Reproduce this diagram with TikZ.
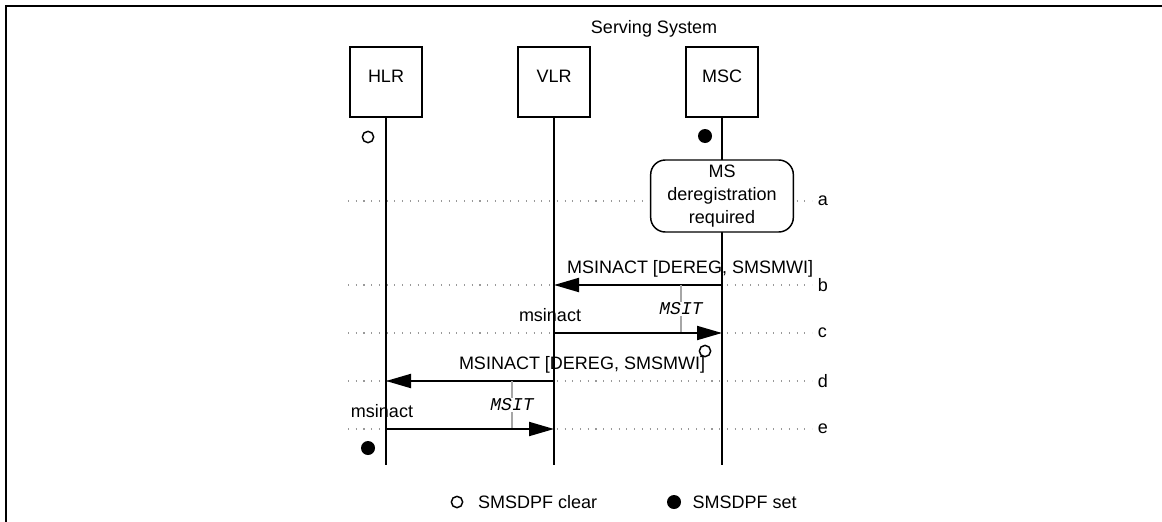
\documentclass[tikz,border=0pt]{standalone}
\usepackage{fontspec}
\setmainfont{Liberation Sans}
\newfontfamily\msitfont{Liberation Mono}
\usetikzlibrary{arrows.meta, positioning}

\begin{document}
\begin{tikzpicture}[
  x=0.75pt, y=-0.75pt,
  font=\fontsize{13.5}{17}\selectfont,
  entity/.style={draw, line width=1.1pt, minimum width=54pt, minimum height=52.5pt,
                 inner sep=0pt, text height=26.25pt, text depth=26.25pt},
  life/.style={line width=1.5pt},
  event/.style={draw, line width=1.1pt, rounded corners=11pt, fill=white,
                minimum width=107pt, minimum height=54pt, align=center, inner sep=2pt},
  msg/.style={line width=1.5pt, -{Triangle[length=18.75pt, width=10.5pt]}},
  guide/.style={gray!80, line width=0.8pt, dash pattern=on 0.8pt off 5pt},
  timer/.style={gray!70, line width=1.1pt},
  msit/.style={font=\fontsize{13.5}{16}\selectfont\msitfont\itshape,
               text=black, fill=white, inner sep=1pt},
  dpfclear/.style={circle, draw, line width=1.1pt, minimum size=8.5pt, inner sep=0pt},
  dpfset/.style={circle, fill, minimum size=10.5pt, inner sep=0pt},
  rowlabel/.style={right, text=black, inner sep=4pt},
]
\useasboundingbox (0,0) rectangle (1162,521);
\draw[line width=1.5pt] (6,530) -- (6,6) -- (1170,6);

% entities
\node[anchor=base] (serving) at (654,33) {Serving System};
\node[entity] (hlr) at (386,82) {HLR};
\node[entity] (vlr) at (554,82) {VLR};
\node[entity] (msc) at (722,82) {MSC};

% time rows
\coordinate (bottom) at (0,465);
\foreach \r/\y in {a/201,b/285,c/333,d/381,e/429}{
  \coordinate (row\r) at (0,\y);
  \draw[guide] (348,\y) -- (812,\y) node[rowlabel] {\r};
}

% lifelines
\draw[life] (hlr) -- (hlr |- bottom);
\draw[life] (vlr) -- (vlr |- bottom);
\draw[life] (msc) -- (msc |- bottom);

\node[dpfclear] (hlr-clear) at (368,137) {};
\node[dpfset]   (msc-set)   at (705,136) {};
\node[event] (dereg) at (722,196) {MS\\deregistration\\required};

% messages
\draw[msg] (msc |- rowb) -- (vlr |- rowb);
\node[anchor=base] (msg-b) at (690,273) {MSINACT [DEREG, SMSMWI]};
\draw[timer] (681,285) -- node[msit] (msit-vlr) {MSIT} (681,333);

\draw[msg] (vlr |- rowc) -- (msc |- rowc);
\node[anchor=base] (msg-c) at (550,321) {msinact};
\node[dpfclear] (msc-clear) at (705,351) {};

\draw[msg] (vlr |- rowd) -- (hlr |- rowd);
\node[anchor=base] (msg-d) at (582,369) {MSINACT [DEREG, SMSMWI]};
\draw[timer] (512,381) -- node[msit] (msit-hlr) {MSIT} (512,429);

\draw[msg] (hlr |- rowe) -- (vlr |- rowe);
\node[anchor=base] (msg-e) at (382,417) {msinact};
\node[dpfset] (hlr-set) at (368,448) {};

% legend
\node[dpfclear] (key-clear) at (457,502) {};
\node[right=7.5pt of key-clear] (key-clear-text) {SMSDPF clear};
\node[dpfset] (key-set) at (674,502) {};
\node[right=5pt of key-set] (key-set-text) {SMSDPF set};

\end{tikzpicture}
\end{document}
